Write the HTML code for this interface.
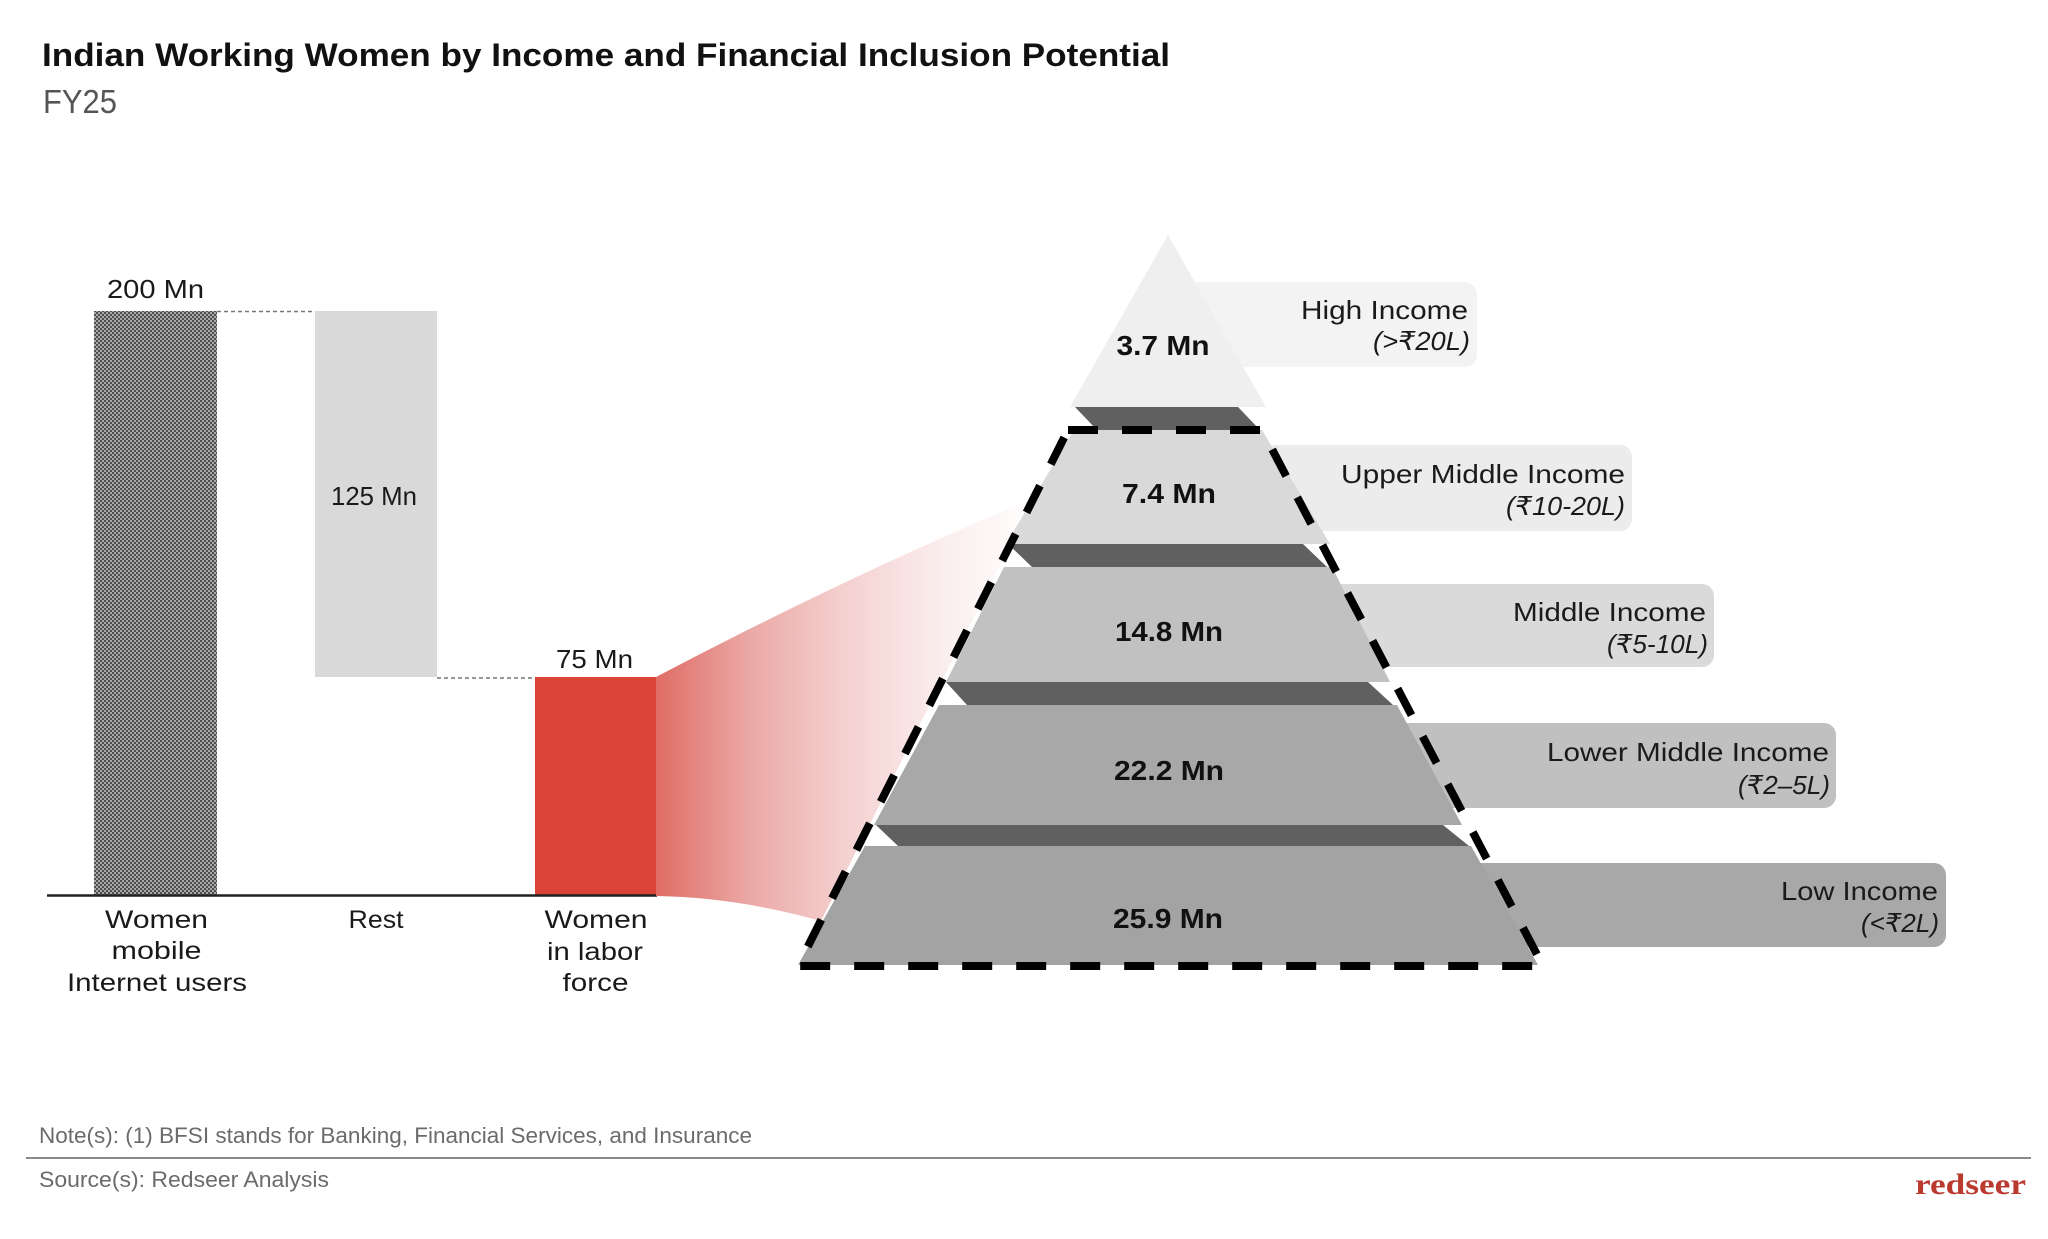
<!DOCTYPE html>
<html>
<head>
<meta charset="utf-8">
<style>
html,body{margin:0;padding:0;background:#fff;}
svg{display:block;}
</style>
</head>
<body>
<svg width="2048" height="1239" viewBox="0 0 2048 1239" xmlns="http://www.w3.org/2000/svg">
<defs>
  <pattern id="dots" width="4" height="4" patternUnits="userSpaceOnUse">
    <rect width="4" height="4" fill="#a9a9a9"/>
    <rect x="0" y="0" width="2" height="2" fill="#4e4e4e"/>
    <rect x="2" y="2" width="2" height="2" fill="#4e4e4e"/>
  </pattern>
  <linearGradient id="fun" x1="656" y1="0" x2="1040" y2="0" gradientUnits="userSpaceOnUse">
    <stop offset="0" stop-color="#df6d65"/>
    <stop offset="0.25" stop-color="#ebaaa7"/>
    <stop offset="0.5" stop-color="#f4d2d1"/>
    <stop offset="0.75" stop-color="#fbeeee"/>
    <stop offset="1" stop-color="#ffffff"/>
  </linearGradient>
</defs>

<!-- Title -->
<text x="42" y="66" font-family="Liberation Sans, sans-serif" font-size="32" font-weight="bold" fill="#111" textLength="1128" lengthAdjust="spacingAndGlyphs">Indian Working Women by Income and Financial Inclusion Potential</text>
<text x="43" y="113" font-family="Liberation Sans, sans-serif" font-size="33" fill="#555" textLength="74" lengthAdjust="spacingAndGlyphs">FY25</text>

<!-- Waterfall -->
<rect x="94" y="311" width="123" height="584" fill="url(#dots)"/>
<rect x="315" y="311" width="122" height="366" fill="#d9d9d9"/>
<rect x="535" y="677" width="122" height="218" fill="#da4336"/>
<line x1="217" y1="311.5" x2="315" y2="311.5" stroke="#777" stroke-width="1.5" stroke-dasharray="4 3"/>
<line x1="437" y1="678" x2="535" y2="678" stroke="#777" stroke-width="1.5" stroke-dasharray="4 3"/>
<line x1="47" y1="895.5" x2="657" y2="895.5" stroke="#222" stroke-width="2.5"/>

<g font-family="Liberation Sans, sans-serif" font-size="26" fill="#1a1a1a" text-anchor="middle">
  <text x="155.5" y="298" textLength="97" lengthAdjust="spacingAndGlyphs">200 Mn</text>
  <text x="374" y="505" textLength="86" lengthAdjust="spacingAndGlyphs">125 Mn</text>
  <text x="594.5" y="668" textLength="77" lengthAdjust="spacingAndGlyphs">75 Mn</text>
</g>
<g font-family="Liberation Sans, sans-serif" font-size="25" fill="#1a1a1a" text-anchor="middle">
  <text x="156.5" y="928" textLength="103" lengthAdjust="spacingAndGlyphs">Women</text>
  <text x="156.5" y="959" textLength="90" lengthAdjust="spacingAndGlyphs">mobile</text>
  <text x="157" y="991" textLength="180" lengthAdjust="spacingAndGlyphs">Internet users</text>
  <text x="376" y="928" textLength="55" lengthAdjust="spacingAndGlyphs">Rest</text>
  <text x="596" y="928" textLength="103" lengthAdjust="spacingAndGlyphs">Women</text>
  <text x="595" y="960" textLength="96" lengthAdjust="spacingAndGlyphs">in labor</text>
  <text x="595.5" y="991" textLength="66" lengthAdjust="spacingAndGlyphs">force</text>
</g>

<!-- Label boxes (behind pyramid) -->
<rect x="1168" y="282" width="309" height="85" rx="12" fill="#f3f3f3"/>
<rect x="1168" y="445" width="464" height="86" rx="12" fill="#ececec"/>
<rect x="1168" y="584" width="546" height="83" rx="12" fill="#dadada"/>
<rect x="1168" y="723" width="668" height="85" rx="12" fill="#c0c0c0"/>
<rect x="1168" y="863" width="778" height="84" rx="12" fill="#a8a8a8"/>

<!-- Funnel -->
<path d="M656,677 Q850,575 1034,498 L821,921 Q735,897 656,896 Z" fill="url(#fun)"/>

<!-- Pyramid layers -->
<polygon points="1168,235 1266,407 1070,407" fill="#efefef"/>
<polygon points="1075,407 1238,407 1260,430 1097,430" fill="#606060"/>
<polygon points="1074,430 1262,430 1330,544 1006,544" fill="#d9d9d9"/>
<polygon points="1008,544 1303,544 1327,567 1032,567" fill="#606060"/>
<polygon points="1004,567 1332,567 1390,682 946,682" fill="#c1c1c1"/>
<polygon points="946,682 1368,682 1393,705 967,705" fill="#606060"/>
<polygon points="939,705 1397,705 1462,825 874,825" fill="#a8a8a8"/>
<polygon points="876,825 1443,825 1469,846 898,846" fill="#606060"/>
<polygon points="865,846 1471,846 1538,965 798,965" fill="#a3a3a3"/>

<!-- Dashed outline -->
<path d="M1068,430 L1262,430 L1543,966 L798,966 Z" fill="none" stroke="#000" stroke-width="8" stroke-dasharray="30 24" stroke-linejoin="miter"/>

<!-- Pyramid values -->
<g font-family="Liberation Sans, sans-serif" font-size="28" font-weight="bold" fill="#111" text-anchor="middle">
  <text x="1163" y="355" textLength="93" lengthAdjust="spacingAndGlyphs">3.7 Mn</text>
  <text x="1169" y="503" textLength="94" lengthAdjust="spacingAndGlyphs">7.4 Mn</text>
  <text x="1169" y="641" textLength="108" lengthAdjust="spacingAndGlyphs">14.8 Mn</text>
  <text x="1169" y="780" textLength="110" lengthAdjust="spacingAndGlyphs">22.2 Mn</text>
  <text x="1168" y="928" textLength="110" lengthAdjust="spacingAndGlyphs">25.9 Mn</text>
</g>

<!-- Income labels -->
<g font-family="Liberation Sans, DejaVu Sans, sans-serif" font-size="26" fill="#1a1a1a" text-anchor="end">
  <text x="1468" y="319" textLength="167" lengthAdjust="spacingAndGlyphs">High Income</text>
  <text x="1470" y="350" font-style="italic" textLength="97" lengthAdjust="spacingAndGlyphs">(&gt;₹20L)</text>
  <text x="1625" y="483" textLength="284" lengthAdjust="spacingAndGlyphs">Upper Middle Income</text>
  <text x="1625" y="515" font-style="italic" textLength="119" lengthAdjust="spacingAndGlyphs">(₹10-20L)</text>
  <text x="1706" y="621" textLength="193" lengthAdjust="spacingAndGlyphs">Middle Income</text>
  <text x="1708" y="653" font-style="italic" textLength="101" lengthAdjust="spacingAndGlyphs">(₹5-10L)</text>
  <text x="1829" y="761" textLength="282" lengthAdjust="spacingAndGlyphs">Lower Middle Income</text>
  <text x="1830" y="794" font-style="italic" textLength="92" lengthAdjust="spacingAndGlyphs">(₹2–5L)</text>
  <text x="1938" y="900" textLength="157" lengthAdjust="spacingAndGlyphs">Low Income</text>
  <text x="1939" y="932" font-style="italic" textLength="78" lengthAdjust="spacingAndGlyphs">(&lt;₹2L)</text>
</g>

<!-- Footer -->
<text x="39" y="1143" font-family="Liberation Sans, sans-serif" font-size="22" fill="#6b6b6b" textLength="713" lengthAdjust="spacingAndGlyphs">Note(s): (1) BFSI stands for Banking, Financial Services, and Insurance</text>
<line x1="26" y1="1158" x2="2031" y2="1158" stroke="#8a8a8a" stroke-width="2"/>
<text x="39" y="1187" font-family="Liberation Sans, sans-serif" font-size="22" fill="#6b6b6b" textLength="290" lengthAdjust="spacingAndGlyphs">Source(s): Redseer Analysis</text>
<text x="1915" y="1194" font-family="Liberation Serif, serif" font-size="30" font-weight="bold" fill="#bb3a2f" textLength="111" lengthAdjust="spacingAndGlyphs">redseer</text>
</svg>
</body>
</html>
